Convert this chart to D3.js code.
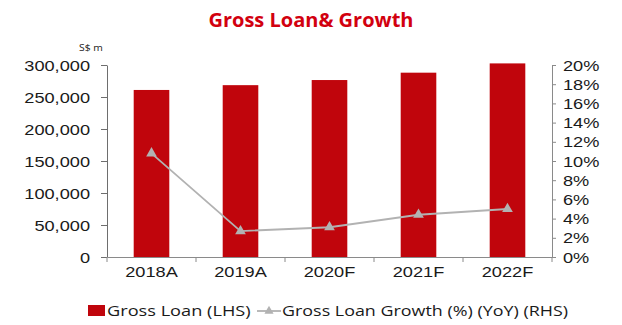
<!DOCTYPE html>
<html>
<head>
<meta charset="utf-8">
<script src="https://cdn.jsdelivr.net/npm/d3@7"></script>
<style>
  html, body { margin: 0; padding: 0; background: #fff; }
  svg { display: block; font-family: "Open Sans", "DejaVu Sans", sans-serif; }
</style>
</head>
<body>
<svg id="chart" width="622" height="325"></svg>
<script>
// Gross loan (S$ m) and YoY growth
const years = ["2018A", "2019A", "2020F", "2021F", "2022F"];
const grossLoan = [261000, 268500, 276500, 288000, 302500];
const loanGrowth = [10.8, 2.7, 3.1, 4.4, 5.0];
const leftTicks = [0, 50000, 100000, 150000, 200000, 250000, 300000];
const rightTicks = [0, 2, 4, 6, 8, 10, 12, 14, 16, 18, 20];
const seriesNames = ["Gross Loan (LHS)", "Gross Loan Growth (%) (YoY) (RHS)"];
const titleText = "Gross Loan& Growth";
const unitText = "S$ m";

const RED = "#c0050c";
const GREY = "#b2b2b2";
const AXIS = "#8a8a8a";
const TEXT = "#1a1a1a";
const SX = 1.3; // horizontal stretch of the label type

const svg = d3.select("#chart");
const plot = { left: 107, right: 552, top: 65, bottom: 257 };

const x = d3.scaleBand().domain(years)
  .range([plot.left, plot.right]).paddingInner(0.6).paddingOuter(0.3);
const yL = d3.scaleLinear().domain([0, 300000]).range([plot.bottom, plot.top]);
const yR = d3.scaleLinear().domain([0, 20]).range([plot.bottom, plot.top]);

// Title and unit label
svg.append("text").attr("x", 311).attr("y", 27).attr("text-anchor", "middle")
  .attr("font-size", 20).attr("font-weight", 700).attr("fill", "#d2000f")
  .text(titleText);
svg.append("text").attr("transform", `translate(79,51) scale(1.15,1)`)
  .attr("font-size", 9).attr("fill", TEXT).text(unitText);

// Bars
svg.append("g").selectAll("rect").data(years).join("rect")
  .attr("x", d => x(d)).attr("width", x.bandwidth())
  .attr("y", (d, i) => yL(grossLoan[i]))
  .attr("height", (d, i) => yL(0) - yL(grossLoan[i]))
  .attr("fill", RED);

// Left axis
const axL = svg.append("g").attr("transform", `translate(${plot.left},0)`)
  .call(d3.axisLeft(yL).tickValues(leftTicks).tickSize(6).tickSizeOuter(0)
    .tickFormat(d3.format(",")));
axL.select(".domain").attr("stroke", "#6e6e6e");
axL.selectAll(".tick line").attr("stroke", "#6e6e6e");
axL.selectAll("text").attr("font-size", 14).attr("fill", TEXT)
  .attr("font-family", null)
  .attr("transform", `scale(${SX},1)`).attr("x", -17 / SX).attr("dy", "0.36em");

// Right axis
const axR = svg.append("g").attr("transform", `translate(${plot.right},0)`)
  .call(d3.axisRight(yR).tickValues(rightTicks).tickSize(4).tickSizeOuter(0)
    .tickFormat(d => d + "%"));
axR.select(".domain").attr("stroke", AXIS);
axR.selectAll(".tick line").attr("stroke", AXIS);
axR.selectAll("text").attr("font-size", 14).attr("fill", TEXT)
  .attr("font-family", null)
  .attr("transform", `scale(${SX},1)`).attr("x", 11 / SX).attr("dy", "0.36em");

// Bottom axis: labels centred on categories, ticks on category boundaries
const axB = svg.append("g").attr("transform", `translate(0,${plot.bottom})`)
  .call(d3.axisBottom(x).tickSize(0).tickSizeOuter(0));
axB.select(".domain").attr("stroke", AXIS);
axB.selectAll("text").attr("font-size", 14).attr("fill", TEXT)
  .attr("font-family", null)
  .attr("transform", `scale(${SX},1)`).attr("y", 10).attr("dy", "0.71em");
const bounds = d3.range(years.length + 1).map(i => plot.left + i * x.step());
axB.selectAll(".sep").data(bounds).join("line").attr("class", "sep")
  .attr("x1", d => d).attr("x2", d => d).attr("y1", 0).attr("y2", 5)
  .attr("stroke", AXIS);

// Growth line with triangle markers
const cx = d => x(d) + x.bandwidth() / 2;
const line = d3.line().x((d, i) => cx(years[i])).y(d => yR(d));
svg.append("path").datum(loanGrowth).attr("d", line)
  .attr("fill", "none").attr("stroke", GREY).attr("stroke-width", 1.8);
const tri = d3.symbol().type(d3.symbolTriangle).size(50);
svg.append("g").selectAll("path").data(loanGrowth).join("path")
  .attr("d", tri)
  .attr("transform", (d, i) => `translate(${cx(years[i])},${yR(d)})`)
  .attr("fill", GREY);

// Legend
const lg = svg.append("g").attr("transform", "translate(0,311)");
lg.append("rect").attr("x", 88).attr("y", -6).attr("width", 17).attr("height", 11).attr("fill", RED);
lg.append("text").attr("transform", `translate(107,5) scale(${SX},1)`)
  .attr("font-size", 14).attr("fill", TEXT).text(seriesNames[0]);
lg.append("line").attr("x1", 257).attr("x2", 281).attr("y1", 0).attr("y2", 0)
  .attr("stroke", GREY).attr("stroke-width", 1.8);
lg.append("path").attr("d", d3.symbol().type(d3.symbolTriangle).size(36))
  .attr("transform", "translate(269,0)").attr("fill", GREY);
lg.append("text").attr("transform", `translate(282,5) scale(1.28,1)`)
  .attr("font-size", 14).attr("fill", TEXT).text(seriesNames[1]);
</script>
</body>
</html>
